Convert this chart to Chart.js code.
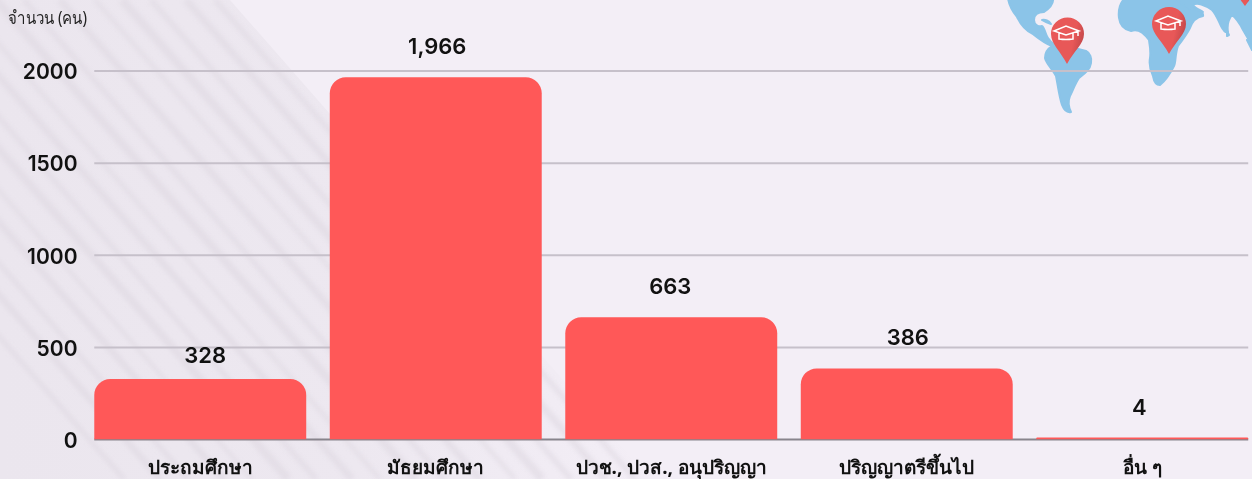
<!DOCTYPE html>
<html>
<head>
<meta charset="utf-8">
<script src="https://cdn.jsdelivr.net/npm/chart.js@4"></script>
<style>
html, body { margin: 0; padding: 0; width: 1252px; height: 479px; overflow: hidden; background: #f3eef6; }
#bg { position: absolute; left: 0; top: 0; }
#wrap { position: absolute; left: 0; top: 0; width: 1272px; height: 479px; }
</style>
</head>
<body>
<svg id="bg" width="1252" height="479" viewBox="0 0 1252 479">
  <defs>
    <linearGradient id="fade" x1="0" y1="0" x2="1" y2="0">
      <stop offset="0" stop-color="#ebe6ee"/>
      <stop offset="0.55" stop-color="#ede8f0"/>
      <stop offset="1" stop-color="#f3eef6"/>
    </linearGradient>
    <linearGradient id="pinFill" x1="0" y1="0" x2="1" y2="0.3">
      <stop offset="0.75" stop-color="#e85858"/>
      <stop offset="1" stop-color="#c94a4c"/>
    </linearGradient>
    <clipPath id="leftPart"><polygon points="0,0 230,0 650,479 0,479"/></clipPath>
    <filter id="soft"><feGaussianBlur stdDeviation="2"/></filter>
  </defs>
  <!-- diagonal stripes, left side -->
  <polygon points="0,0 230,0 650,479 0,479" fill="url(#fade)"/>
  <g clip-path="url(#leftPart)" stroke="#dfd9e2" opacity="0.6" filter="url(#soft)">
    <line x1="215" y1="0" x2="635" y2="479" stroke-width="5"/>
    <line x1="186" y1="0" x2="606" y2="479" stroke-width="7"/>
    <line x1="151" y1="0" x2="571" y2="479" stroke-width="5"/>
    <line x1="122" y1="0" x2="542" y2="479" stroke-width="8"/>
    <line x1="95" y1="0" x2="515" y2="479" stroke-width="4"/>
    <line x1="60" y1="0" x2="480" y2="479" stroke-width="7"/>
    <line x1="24" y1="0" x2="444" y2="479" stroke-width="5"/>
    <line x1="-4" y1="0" x2="416" y2="479" stroke-width="8"/>
    <line x1="-40" y1="0" x2="380" y2="479" stroke-width="4"/>
    <line x1="-68" y1="0" x2="352" y2="479" stroke-width="7"/>
    <line x1="-104" y1="0" x2="316" y2="479" stroke-width="5"/>
    <line x1="-132" y1="0" x2="288" y2="479" stroke-width="8"/>
    <line x1="-168" y1="0" x2="252" y2="479" stroke-width="4"/>
    <line x1="-196" y1="0" x2="224" y2="479" stroke-width="7"/>
    <line x1="-232" y1="0" x2="188" y2="479" stroke-width="5"/>
    <line x1="-260" y1="0" x2="160" y2="479" stroke-width="7"/>
    <line x1="-296" y1="0" x2="124" y2="479" stroke-width="5"/>
  </g>
  <!-- map -->
  <g fill="#8bc4e8" stroke="#8bc4e8" stroke-width="2" stroke-linejoin="round">
    <path d="M1008,-2 L1053,-2 C1054,4 1050,8 1044,12 C1038,12 1034,15 1034,20 C1034,25 1039,27 1042,26 C1045,28 1045,34 1048,38 C1050,41 1052,43 1054,44 L1052,46 C1044,43 1038,38 1033,34 C1026,31 1021,25 1017,17 C1013,12 1009,6 1008,-2 Z"/>
    <path d="M1052,46 C1060,46 1072,47 1086,51 C1090,53 1092,58 1091,63 C1090,70 1084,74 1079,78 C1075,84 1073,90 1070,96 C1068,101 1068,106 1071,112 C1067,113 1064,110 1062,105 C1059,96 1058,86 1056,76 C1052,69 1046,63 1045,58 C1045,54 1047,49 1052,46 Z"/>
    <path d="M1042,20 C1045,19 1049,21 1051,24 C1048,23 1045,22 1042,20 Z"/>
    <path d="M1125,-2 L1178,-2 C1180,2 1184,6 1188,8 C1196,8 1204,12 1203,16 C1197,17 1192,22 1190,28 C1187,34 1184,38 1178,46 C1175,54 1176,62 1174,66 C1170,74 1166,80 1160,85 C1156,85 1154,82 1153,76 C1150,70 1149,64 1150,58 C1151,52 1150,46 1149,40 C1144,33 1138,28 1131,31 C1125,30 1120,26 1119,18 C1118,10 1120,3 1125,-2 Z"/>
    <path d="M1176,-2 L1232,-2 L1252,-2 L1252,48 C1250,42 1247,36 1243,30 C1240,24 1236,18 1232,15 C1228,20 1227,26 1228,32 C1226,33 1223,30 1221,26 C1218,20 1216,14 1212,10 C1205,5 1197,2 1193,5 C1195,8 1200,10 1203,12 C1196,10 1188,8 1182,4 Z"/>
    <path d="M1227,31 L1229,35 L1227,36 Z"/>
    <path d="M1247,40 L1252,46 L1252,50 Z"/>
  </g>
  <!-- pins -->
  <g fill="url(#pinFill)">
    <path d="M1067,64 C1061,52 1051,44 1051,34 A16.5,16.5 0 0 1 1084,34 C1084,44 1073,52 1067,64 Z"/>
    <path d="M1169,54 C1163,42 1152,34 1152,24 A17,17 0 0 1 1186,24 C1186,34 1175,42 1169,54 Z"/>
    <path d="M1240,-2 L1250,-2 C1250,0 1247,3 1245,6 C1243,3 1240,0 1240,-2 Z"/>
  </g>
  <g fill="none" stroke="#fff" stroke-width="1.5">
    <path d="M1054,31 L1066,26 L1079,31 L1066,35 Z M1059,33 V39 Q1066,40 1073,39 V33 M1078,31 V36"/>
    <path d="M1156,21 L1168,16 L1181,21 L1168,25 Z M1161,23 V29 Q1168,30 1175,29 V23 M1180,21 V26"/>
  </g>
</svg>
<div id="wrap"><canvas id="chart" width="1272" height="479"></canvas></div>
<script>
var categories = ['ประถมศึกษา', 'มัธยมศึกษา', 'ปวช., ปวส., อนุปริญญา', 'ปริญญาตรีขึ้นไป', 'อื่น ๆ'];
var seriesValues = [328, 1966, 663, 386, 4];
var valueLabels = ['328', '1,966', '663', '386', '4'];
var tickLabels = [0, 500, 1000, 1500, 2000];
var axisTitle = 'จำนวน (คน)';

var numberFont = 'Inter, "Noto Sans", sans-serif';
var thaiFont = '"Noto Sans", Inter, sans-serif';

// gridlines stop at the outer bar edges, so they can't come from the scale's own grid
var gridAndLabels = {
    id: 'gridAndLabels',
    beforeDatasetsDraw: function(chart) {
        var ctx = chart.ctx;
        var y = chart.scales.y;
        var bars = chart.getDatasetMeta(0).data;
        var left = bars[0].x - bars[0].width / 2;
        var right = bars[4].x + bars[4].width / 2;
        ctx.save();
        tickLabels.forEach(function(t) {
            ctx.strokeStyle = t === 0 ? '#88848c' : '#c6c0ca';
            ctx.lineWidth = 2;
            ctx.beginPath();
            ctx.moveTo(left, y.getPixelForValue(t));
            ctx.lineTo(right, y.getPixelForValue(t));
            ctx.stroke();
        });
        ctx.restore();
    },
    afterDatasetsDraw: function(chart) {
        var ctx = chart.ctx;
        var bars = chart.getDatasetMeta(0).data;
        // the labels aren't quite centred in the original
        var nudge = [5, 1.5, -1, 1, -3];
        ctx.save();
        ctx.fillStyle = '#111';
        ctx.textAlign = 'center';
        ctx.textBaseline = 'middle';
        ctx.font = '600 22px ' + numberFont;
        valueLabels.forEach(function(text, i) {
            var lift = i === 0 ? 23 : (i === 4 ? 29 : 30);
            ctx.fillText(text, bars[i].x + nudge[i], bars[i].y - lift);
        });
        ctx.textAlign = 'left';
        ctx.fillStyle = '#222';
        ctx.font = '400 18px ' + thaiFont;
        ctx.fillText(axisTitle, 8, 19, 79);
        ctx.restore();
    }
};

var chart = new Chart(document.getElementById('chart').getContext('2d'), {
    type: 'bar',
    data: {
        labels: categories,
        datasets: [{
            data: seriesValues,
            backgroundColor: '#ff5858',
            borderRadius: { topLeft: 16, topRight: 16, bottomLeft: 0, bottomRight: 0 },
            borderSkipped: 'bottom',
            categoryPercentage: 0.9,
            barPercentage: 1,
            minBarLength: 2
        }]
    },
    options: {
        responsive: false,
        animation: false,
        layout: { padding: { top: 71, right: 12 } },
        plugins: { legend: { display: false }, tooltip: { enabled: false } },
        scales: {
            x: {
                grid: { display: false },
                border: { display: false },
                ticks: { color: '#111', font: { family: thaiFont, size: 19, weight: '700' }, maxRotation: 0, autoSkip: false, padding: 10 },
                afterFit: function(scale) { scale.height = 39.5; }
            },
            y: {
                min: 0,
                max: 2000,
                grid: { display: false },
                border: { display: false },
                ticks: {
                    stepSize: 500,
                    color: '#111',
                    font: { family: numberFont, size: 21, weight: '600' },
                    padding: -3,
                    labelOffset: 2,
                    callback: function(v) { return String(v); }
                },
                afterFit: function(scale) { scale.width = 82.5; }
            }
        }
    },
    plugins: [gridAndLabels]
});
</script>
</body>
</html>
